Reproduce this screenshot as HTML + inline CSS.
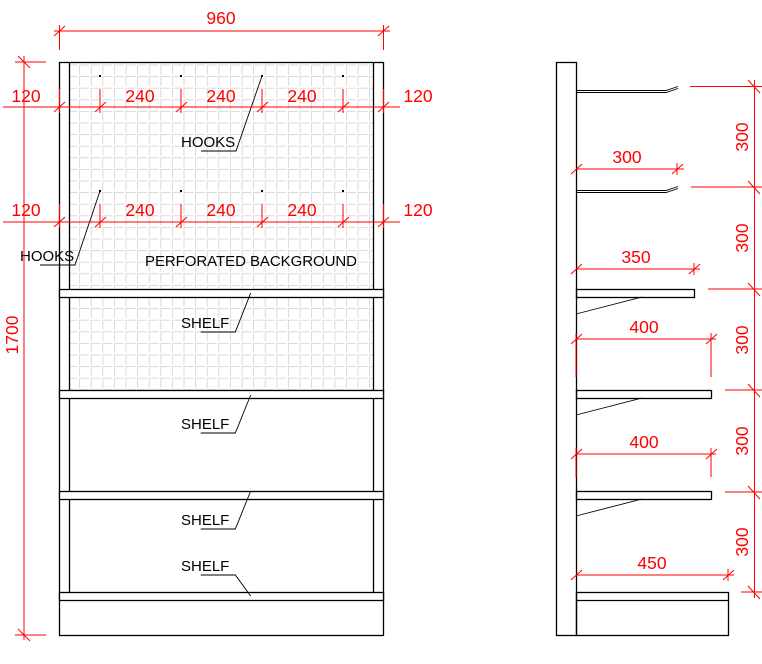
<!DOCTYPE html>
<html><head><meta charset="utf-8"><style>
html,body{margin:0;padding:0;background:#fff;}
svg{display:block;}
text{font-family:"Liberation Sans",sans-serif;}
.r{fill:#f00;font-size:17.5px;text-anchor:middle;}
.k{fill:#000;font-size:15px;}
</style></head><body>
<svg width="762" height="664" viewBox="0 0 762 664" xmlns="http://www.w3.org/2000/svg">
<defs>
<pattern id="g" x="67.5" y="64.5" width="11.6" height="11.6" patternUnits="userSpaceOnUse">
<path d="M0 0.5H10M0.5 0V10" stroke="#d9d9d9" stroke-width="1" fill="none"/>
</pattern>
</defs>
<rect x="69" y="62" width="304" height="228" fill="url(#g)"/>
<rect x="69" y="298" width="304" height="92" fill="url(#g)"/>
<g stroke="#000" stroke-width="1.3" fill="none">
<rect x="59.5" y="62.5" width="324" height="573"/>
<line x1="69.5" y1="62" x2="69.5" y2="593"/>
<line x1="373.5" y1="62" x2="373.5" y2="593"/>
<rect x="59.5" y="289.5" width="324" height="8" fill="#fff"/>
<rect x="59.5" y="390.5" width="324" height="8" fill="#fff"/>
<rect x="59.5" y="491.5" width="324" height="8" fill="#fff"/>
<rect x="59.5" y="592.5" width="324" height="8" fill="#fff"/>
</g>
<g fill="#000">
<rect x="99" y="75" width="2" height="2"/><rect x="180" y="75" width="2" height="2"/><rect x="261" y="75" width="2" height="2"/><rect x="342" y="75" width="2" height="2"/>
<rect x="99" y="190" width="2" height="2"/><rect x="180" y="190" width="2" height="2"/><rect x="261" y="190" width="2" height="2"/><rect x="342" y="190" width="2" height="2"/>
</g>
<g stroke="#000" stroke-width="0.9" fill="none">
<polyline points="262,76 236,151 201,151"/>
<polyline points="100,191 75,265 40,265"/>
<polyline points="250.7,293 235.3,332 200.7,332"/>
<polyline points="250.7,395 235.3,433 200.7,433"/>
<polyline points="250.7,491 235.3,529 200.7,529"/>
<polyline points="200.7,575 235.3,575 250.7,596"/>
</g>
<g class="k">
<text x="181" y="147">HOOKS</text>
<text x="20" y="261">HOOKS</text>
<text x="145" y="266" textLength="212">PERFORATED BACKGROUND</text>
<text x="181" y="328">SHELF</text>
<text x="181" y="429">SHELF</text>
<text x="181" y="525">SHELF</text>
<text x="181" y="571">SHELF</text>
</g>
<g stroke="#f00" stroke-width="1" fill="none">
<line x1="54" y1="31" x2="390" y2="31"/>
<line x1="59.5" y1="25" x2="59.5" y2="50"/><line x1="383.5" y1="25" x2="383.5" y2="50"/>
<line x1="54" y1="36" x2="65" y2="26"/><line x1="378" y1="36" x2="389" y2="26"/>
<line x1="24" y1="56" x2="24" y2="640"/>
<line x1="15" y1="62" x2="46" y2="62"/><line x1="15" y1="635" x2="46" y2="635"/>
<line x1="18" y1="56" x2="30" y2="68"/><line x1="18" y1="629" x2="30" y2="641"/>
<line x1="3" y1="107" x2="400" y2="107"/>
<line x1="3" y1="222" x2="400" y2="222"/>
<g id="tk">
<line x1="100" y1="89" x2="100" y2="113"/><line x1="181" y1="89" x2="181" y2="113"/><line x1="262" y1="89" x2="262" y2="113"/><line x1="343" y1="89" x2="343" y2="113"/>
<line x1="59.5" y1="89" x2="59.5" y2="113"/><line x1="383.5" y1="89" x2="383.5" y2="113"/>
<line x1="54" y1="112" x2="65" y2="102"/><line x1="95" y1="112" x2="106" y2="102"/><line x1="176" y1="112" x2="187" y2="102"/><line x1="257" y1="112" x2="268" y2="102"/><line x1="338" y1="112" x2="349" y2="102"/><line x1="378" y1="112" x2="389" y2="102"/>
</g>
<use href="#tk" y="115"/>
</g>
<g class="r">
<text x="221" y="24">960</text>
<text x="26" y="102">120</text><text x="140" y="102">240</text><text x="221" y="102">240</text><text x="302" y="102">240</text><text x="418" y="102">120</text>
<text x="26" y="216">120</text><text x="140" y="216">240</text><text x="221" y="216">240</text><text x="302" y="216">240</text><text x="418" y="216">120</text>
<text transform="translate(18,335) rotate(-90)">1700</text>
</g>
<g stroke="#000" stroke-width="1.3" fill="none">
<rect x="556.5" y="62.5" width="20" height="573"/>
<rect x="576.5" y="289.5" width="118" height="8"/>
<rect x="576.5" y="390.5" width="135" height="8"/>
<rect x="576.5" y="491.5" width="135" height="8"/>
<rect x="576.5" y="592.5" width="152" height="43"/>
<line x1="576" y1="600.5" x2="728" y2="600.5"/>
</g>
<g stroke="#000" stroke-width="0.9" fill="none">
<line x1="576" y1="314" x2="642" y2="297"/>
<line x1="576" y1="415" x2="642" y2="398"/>
<line x1="576" y1="516" x2="642" y2="499"/>
<polyline points="576,90.5 666,90.5 678,86.5"/>
<polyline points="576,92.5 666,92.5 678,88.5"/>
<polyline points="576,190.5 666,190.5 678,186.5"/>
<polyline points="576,192.5 666,192.5 678,188.5"/>
</g>
<g stroke="#f00" stroke-width="1" fill="none">
<line x1="576" y1="169" x2="684" y2="169"/><line x1="571" y1="174" x2="582" y2="164"/><line x1="672" y1="174" x2="683" y2="164"/><line x1="677" y1="163" x2="677" y2="175"/>
<line x1="576" y1="269" x2="700" y2="269"/><line x1="571" y1="274" x2="582" y2="264"/><line x1="689" y1="274" x2="700" y2="264"/><line x1="694" y1="263" x2="694" y2="275"/>
<line x1="576" y1="339" x2="716" y2="339"/><line x1="571" y1="344" x2="582" y2="334"/><line x1="706" y1="344" x2="717" y2="334"/><line x1="711" y1="333" x2="711" y2="377"/><line x1="576" y1="333" x2="576" y2="377"/>
<line x1="576" y1="454" x2="716" y2="454"/><line x1="571" y1="459" x2="582" y2="449"/><line x1="706" y1="459" x2="717" y2="449"/><line x1="711" y1="448" x2="711" y2="477"/><line x1="576" y1="448" x2="576" y2="477"/>
<line x1="576" y1="575" x2="734" y2="575"/><line x1="571" y1="580" x2="582" y2="570"/><line x1="723" y1="580" x2="734" y2="570"/><line x1="728" y1="569" x2="728" y2="581"/>
<line x1="754.5" y1="80" x2="754.5" y2="598"/>
<line x1="690" y1="86.5" x2="762" y2="86.5"/><line x1="691" y1="187" x2="762" y2="187"/><line x1="708" y1="289" x2="762" y2="289"/><line x1="725" y1="390" x2="762" y2="390"/><line x1="725" y1="492" x2="762" y2="492"/><line x1="741" y1="592" x2="762" y2="592"/>
<line x1="748" y1="80" x2="760" y2="93"/><line x1="748" y1="181" x2="760" y2="194"/><line x1="748" y1="283" x2="760" y2="296"/><line x1="748" y1="384" x2="760" y2="397"/><line x1="748" y1="486" x2="760" y2="499"/><line x1="748" y1="586" x2="760" y2="599"/>
</g>
<g class="r">
<text x="627" y="163">300</text>
<text x="636" y="263">350</text>
<text x="644" y="333">400</text>
<text x="644" y="448">400</text>
<text x="652" y="569">450</text>
<text transform="translate(748,137) rotate(-90)">300</text>
<text transform="translate(748,238) rotate(-90)">300</text>
<text transform="translate(748,340) rotate(-90)">300</text>
<text transform="translate(748,441) rotate(-90)">300</text>
<text transform="translate(748,542) rotate(-90)">300</text>
</g>
</svg>
</body></html>
